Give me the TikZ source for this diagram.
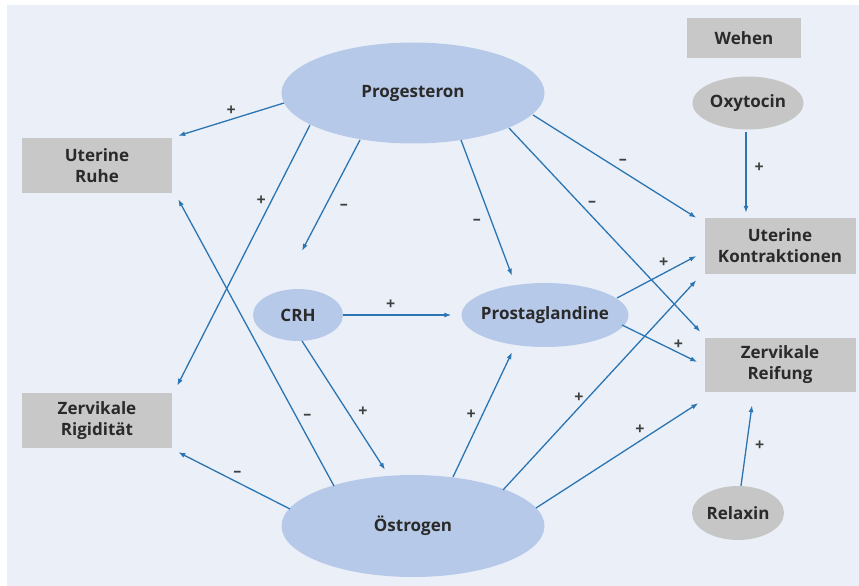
\documentclass[tikz,border=0pt]{standalone}
\usepackage{fontspec}
\setmainfont{Open Sans}
\usetikzlibrary{shapes.geometric,calc,arrows.meta}
\definecolor{panel}{HTML}{EBF0F8}
\definecolor{ellblue}{HTML}{B7C9E8}
\definecolor{boxgray}{HTML}{C8C8C8}
\definecolor{ellgray}{HTML}{C6C6C6}
\definecolor{arrblue}{HTML}{2B75B3}
\definecolor{txt}{HTML}{2A2A2A}
\begin{document}
\begin{tikzpicture}[x=1pt,y=-1pt,
  every node/.style={font=\fontsize{17}{21}\selectfont\bfseries, text=txt, inner sep=0pt, align=center},
  hormone/.style={ellipse, fill=ellblue, draw=none},
  grayell/.style={ellipse, fill=ellgray, draw=none},
  effect/.style={rectangle, fill=boxgray, draw=none, minimum width=150pt, minimum height=55pt},
  arr/.style={draw=arrblue, line width=1.3pt, -{Latex[length=7pt,width=5pt]}},
  sign/.style={font=\fontsize{16}{18}\selectfont\bfseries, text=txt!90}
]
\useasboundingbox (0,0) rectangle (859,586);
\fill[white] (0,0) rectangle (859,586);
\fill[panel] (7,5) rectangle (859,586);

% nodes
\node[hormone, minimum width=263pt, minimum height=101pt] (prog) at (413,93) {Progesteron};
\node[hormone, minimum width=90pt, minimum height=52pt] (crh) at (298,315) {CRH};
\node[hormone, minimum width=165pt, minimum height=64pt, inner xsep=-5pt] (prost) at (545,315) {Prostaglandine};
\node[hormone, minimum width=263pt, minimum height=102pt] (oest) at (413,526) {Östrogen};
\node[grayell, minimum width=111pt, minimum height=53pt] (oxy) at (748,103) {Oxytocin};
\node[grayell, minimum width=92pt, minimum height=54pt] (relax) at (738,513) {Relaxin};

\node[effect] (ruhe) at (97,165.5) {Uterine\\Ruhe};
\node[effect] (rigid) at (97,420.5) {Zervikale\\Rigidität};
\node[effect, minimum width=114pt, minimum height=40pt] (wehen) at (744,38) {Wehen};
\node[effect, minimum width=151pt, minimum height=56pt] (kontr) at (780,246) {Uterine\\Kontraktionen};
\node[effect, minimum width=151pt, minimum height=54pt] (reif) at (780,365) {Zervikale\\Reifung};

% arrows from Progesteron
\draw[arr] ($(prog)+(-129,10)$) -- ($(ruhe.north east)+(6,-2)$) node[sign, pos=0.5, above=3pt] {+};
\draw[arr] ($(prog)+(-103,32)$) -- ($(rigid.north east)+(5,-7)$) node[sign, pos=0.29, left=5pt] {+};
\draw[arr] ($(prog)+(-53,47)$) -- ($(crh.north)+(4,-38)$) node[sign, pos=0.6, right=14pt] {–};
\draw[arr] ($(prog)+(48,47)$) -- ($(prost.north)+(-33,-7)$) node[sign, pos=0.6, left=10pt] {–};
\draw[arr] ($(prog)+(120,22)$) -- ($(kontr.north west)+(-8,0)$) node[sign, pos=0.55, above=6pt] {–};
\draw[arr] ($(prog)+(96,35)$) -- ($(reif.north west)+(-4,-6)$) node[sign, pos=0.4, above right=2pt] {–};

% Oxytocin
\draw[arr] (oxy.south) ++(-2,2) -- ($(kontr.north)+(-34,-5)$) node[sign, pos=0.45, right=8pt] {+};

% CRH
\draw[arr] (crh.east) -- ($(prost.west)+(-10,0)$) node[sign, pos=0.44, above=5pt] {+};
\draw[arr] ($(crh)+(4,26)$) -- ($(oest.north)+(-28,-5)$) node[sign, pos=0.55, right=10pt] {+};

% arrows from Östrogen
\draw[arr] ($(oest)+(-79,-40)$) -- ($(ruhe.south east)+(6,6)$) node[sign, pos=0.24, right=6pt] {–};
\draw[arr] ($(oest)+(-123,-17)$) -- ($(rigid.south east)+(6,4)$) node[sign, pos=0.47, above=5pt] {–};
\draw[arr] ($(oest)+(40,-49)$) -- ($(prost.south)+(-33,5)$) node[sign, pos=0.5, left=6pt] {+};
\draw[arr] ($(oest)+(90,-36)$) -- ($(kontr.south west)+(-8,6)$) node[sign, pos=0.44, left=4pt] {+};
\draw[arr] ($(oest)+(123,-18)$) -- ($(reif.south west)+(-6,11)$) node[sign, pos=0.64, above=6pt] {+};

% Prostaglandine
\draw[arr] ($(prost)+(72,-17)$) -- ($(kontr.west)+(-8,10)$) node[sign, pos=0.59, above=5pt] {+};
\draw[arr] ($(prost)+(77,10)$) -- ($(reif.west)+(-7,-3)$) node[sign, pos=0.75, above=3pt] {+};

% Relaxin
\draw[arr] (relax.north) ++(3,0) -- ($(reif.south)+(-28,13)$) node[sign, pos=0.5, right=8pt] {+};
\end{tikzpicture}
\end{document}
